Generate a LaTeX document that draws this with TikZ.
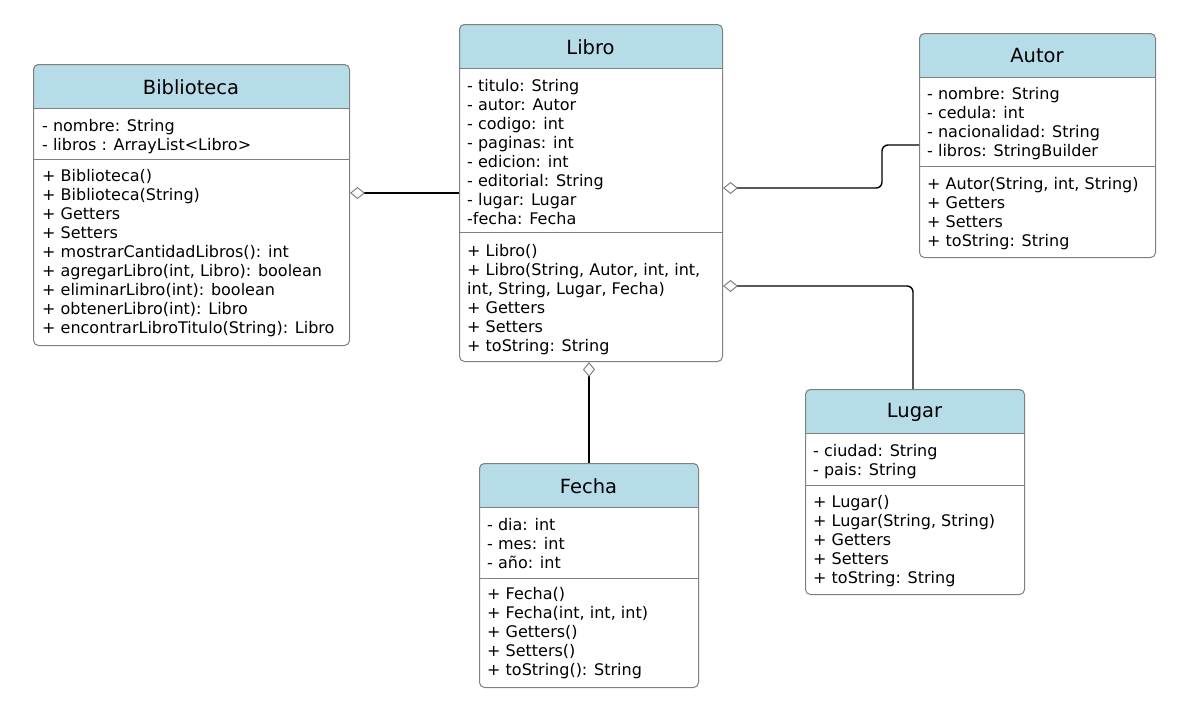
\documentclass[tikz,border=0pt]{standalone}
\usepackage{fontspec}
\setmainfont{DejaVu Sans}
\usetikzlibrary{arrows.meta}

\definecolor{hdrblue}{RGB}{182,220,232}
\definecolor{boxgray}{RGB}{128,128,128}

\tikzset{
    classbox/.style={draw=boxgray, line width=1pt, rounded corners=5pt, inner sep=0pt},
    sepline/.style={draw=boxgray, line width=1pt},
    title/.style={inner sep=0pt, font=\fontsize{19.5}{23}\selectfont},
    member/.style={anchor=base west, inner sep=0pt, font=\fontsize{16}{19}\selectfont},
    agg/.style={line width=1.4pt, rounded corners=6pt,
        -{Diamond[length=15pt, width=12pt, line width=1pt, fill=white, color=boxgray]}},
}

% frame of a class: name, x1, y1, x2, y2, second separator, title
\newcommand{\classframe}[7]{%
    \begin{scope}
        \clip[rounded corners=5pt] (#2,#3) rectangle (#4,#5);
        \fill[hdrblue] (#2,#3) rectangle (#4,#3+44);
    \end{scope}
    \draw[sepline] (#2,#3+44) -- (#4,#3+44);
    \draw[sepline] (#2,#6) -- (#4,#6);
    \node[classbox, anchor=north west, minimum width=#4pt-#2pt, minimum height=#5pt-#3pt] (#1) at (#2,#3) {};
    \node[title] (#1t) at ({(#2+#4)/2},#3+23) {#7};
}

\begin{document}
\begin{tikzpicture}[x=1pt, y=-1pt]
    \useasboundingbox (0,0) rectangle (1198,705);

    % Biblioteca
    \classframe{bib}{33}{64}{349}{345}{159}{Biblioteca}
    \foreach \t [count=\i from 0] in {- nombre: String, - libros : ArrayList<Libro>}
        \node[member] (biba\i) at (42, 131+19*\i) {\t};
    \foreach \t [count=\i from 0] in {+ Biblioteca(), + Biblioteca(String), + Getters, + Setters,
        + mostrarCantidadLibros(): int, {+ agregarLibro(int, Libro): boolean},
        + eliminarLibro(int): boolean, + obtenerLibro(int): Libro,
        + encontrarLibroTitulo(String): Libro}
        \node[member] (bibm\i) at (42, 181+19*\i) {\t};

    % Libro
    \classframe{libro}{459}{24}{722}{361}{232}{Libro}
    \foreach \t [count=\i from 0] in {- titulo: String, - autor: Autor, - codigo: int,
        - paginas: int, - edicion: int, - editorial: String, - lugar: Lugar, -fecha: Fecha}
        \node[member] (libroa\i) at (467, 91+19*\i) {\t};
    \foreach \t [count=\i from 0] in {+ Libro(), {+ Libro(String, Autor, int, int,},
        {int, String, Lugar, Fecha)}, + Getters, + Setters, + toString: String}
        \node[member] (librom\i) at (467, 256+19*\i) {\t};

    % Autor
    \classframe{autor}{919}{33}{1155}{257}{166}{Autor}
    \foreach \t [count=\i from 0] in {- nombre: String, - cedula: int,
        - nacionalidad: String, - libros: StringBuilder}
        \node[member] (autora\i) at (927, 99+19*\i) {\t};
    \foreach \t [count=\i from 0] in {{+ Autor(String, int, String)}, + Getters,
        + Setters, + toString: String}
        \node[member] (autorm\i) at (927, 189+19*\i) {\t};

    % Lugar
    \classframe{lugar}{805}{389}{1024}{594}{485}{Lugar}
    \foreach \t [count=\i from 0] in {- ciudad: String, - pais: String}
        \node[member] (lugara\i) at (813, 456+19*\i) {\t};
    \foreach \t [count=\i from 0] in {+ Lugar(), {+ Lugar(String, String)}, + Getters,
        + Setters, + toString: String}
        \node[member] (lugarm\i) at (813, 507+19*\i) {\t};

    % Fecha
    \classframe{fecha}{479}{463}{698}{687}{578}{Fecha}
    \foreach \t [count=\i from 0] in {- dia: int, - mes: int, - año: int}
        \node[member] (fechaa\i) at (487, 530+19*\i) {\t};
    \foreach \t [count=\i from 0] in {+ Fecha(), {+ Fecha(int, int, int)}, + Getters(),
        + Setters(), + toString(): String}
        \node[member] (fecham\i) at (487, 599+19*\i) {\t};

    % aggregations
    \draw[agg] (libro.west |- 0,193) -- (bib.east |- 0,193);
    \draw[agg] (autor.west |- 0,145) -- (882,145) -- (882,188) -- (libro.east |- 0,188);
    \draw[agg] (lugar.north -| 913,0) |- (libro.east |- 0,286);
    \draw[agg] (fecha.north -| 589,0) -- (libro.south -| 589,0);
\end{tikzpicture}
\end{document}
